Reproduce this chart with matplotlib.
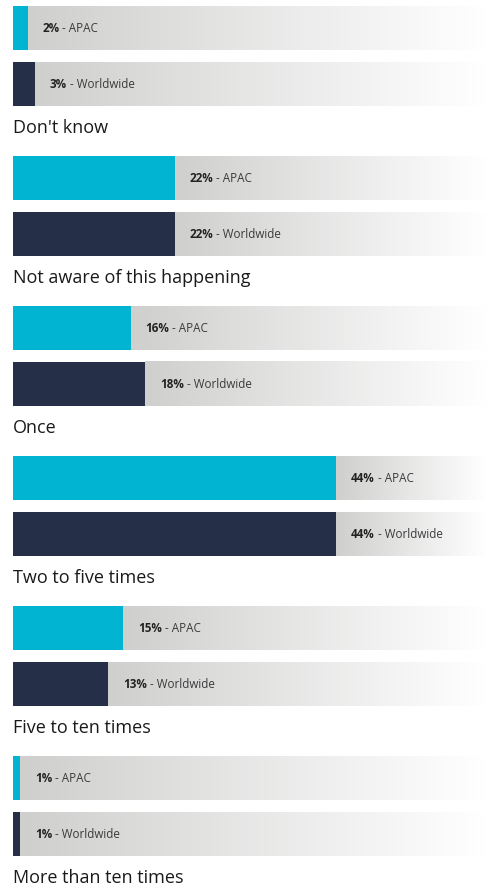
import matplotlib.pyplot as plt
from matplotlib.colors import LinearSegmentedColormap
import numpy as np

# Survey answers with APAC vs worldwide shares (percent)
categories = ["Don't know", "Not aware of this happening", "Once",
              "Two to five times", "Five to ten times", "More than ten times"]
apac = [2, 22, 16, 44, 15, 1]
worldwide = [3, 22, 18, 44, 13, 1]
series_names = ["APAC", "Worldwide"]

plt.rcParams['font.family'] = ['Open Sans', 'DejaVu Sans']

cyan = "#00b4d2"
navy = "#252f47"
fade = LinearSegmentedColormap.from_list("fade", ["#cfd0ce", "#ffffff"])
grad = np.linspace(0, 1, 1024).reshape(1, -1)

fig = plt.figure(figsize=(4.86, 8.86), dpi=100)
ax = fig.add_axes([13 / 486, 0, 473 / 486, 1])
xmax = 64.4

pitch = 150
bar_h = 44

for i, cat in enumerate(categories):
    top = 6 + i * pitch
    for j, (vals, col, name) in enumerate([(apac, cyan, series_names[0]),
                                            (worldwide, navy, series_names[1])]):
        y0 = top + j * 56
        v = vals[i]
        # grey fade behind the remaining part of the bar
        ax.imshow(grad, cmap=fade, aspect='auto', interpolation='bilinear',
                  extent=[v, xmax, y0 + bar_h, y0], zorder=1)
        ax.barh(y0 + bar_h / 2, v, height=bar_h, color=col, zorder=2)
        t = ax.annotate(f"{v}%", xy=(v, y0 + bar_h / 2), xytext=(10.5, 0),
                        textcoords='offset points', va='center', ha='left',
                        fontsize=8.4, fontweight='bold', color='#222222', zorder=3)
        ax.annotate(f" - {name}", xy=(1, 0), xycoords=t, va='bottom', ha='left',
                    fontsize=8.4, color='#3a3a3a', zorder=3)
    ax.text(0, top + 127, cat, fontsize=13, color='#1a1a1a',
            va='baseline', ha='left')

ax.set_xlim(0, xmax)
ax.set_ylim(886, 0)
ax.axis('off')

fig.savefig("out.png", dpi=100)
